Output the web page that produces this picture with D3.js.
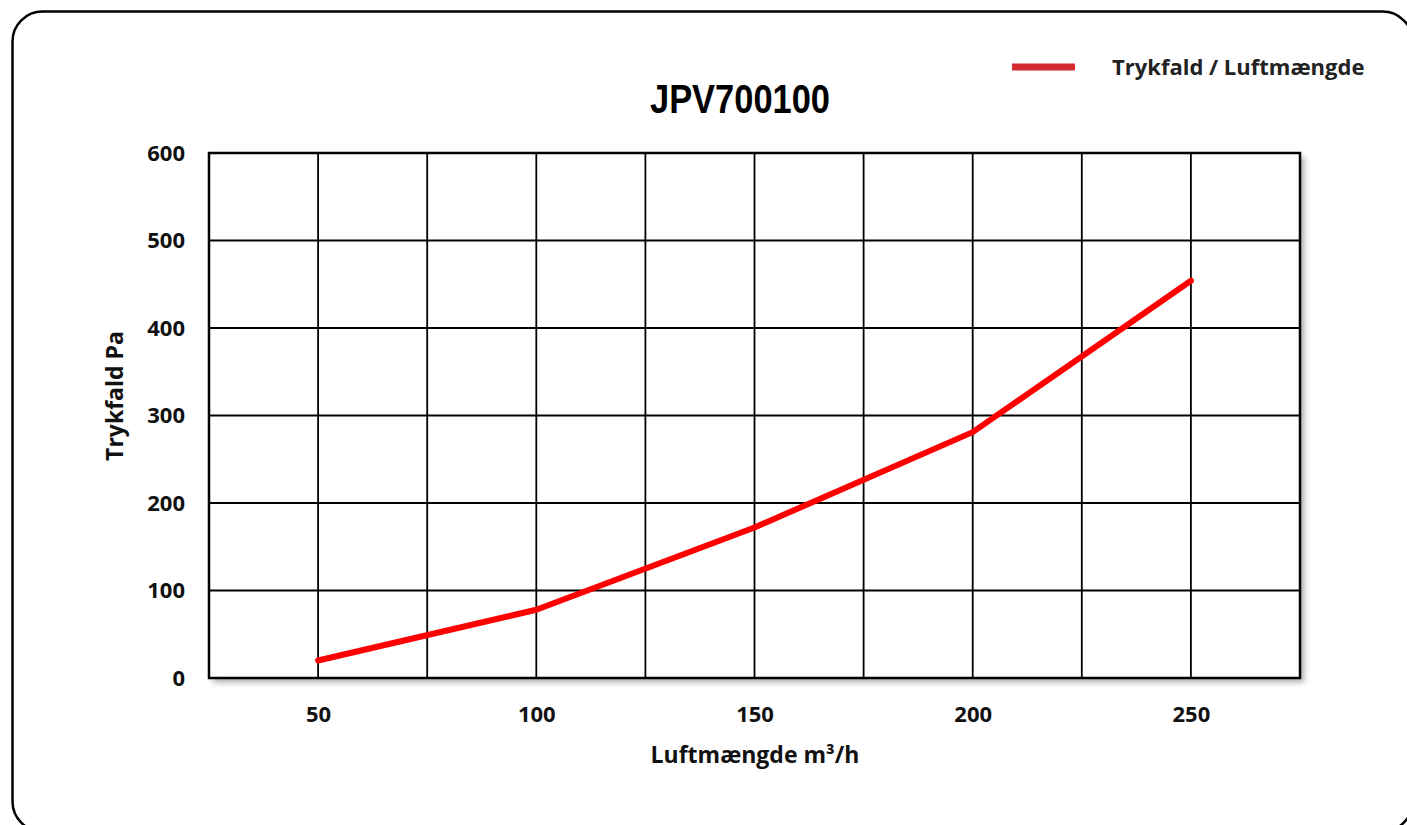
<!DOCTYPE html>
<html>
<head>
<meta charset="utf-8">
<script src="https://cdn.jsdelivr.net/npm/d3@7"></script>
<style>
  body { margin: 0; background: #fff; }
  svg { display: block; }
  .lbl { font-family: "Open Sans", sans-serif; font-weight: bold; fill: #111; }
</style>
</head>
<body>
<div id="chart"></div>
<script>
// data
var flow = [50, 100, 150, 200, 250];          // Luftmængde m3/h
var pressure = [20, 78, 172, 281, 454];       // Trykfald Pa
var xTicks = [50, 100, 150, 200, 250];
var yTicks = [0, 100, 200, 300, 400, 500, 600];
var xGrid = [25, 50, 75, 100, 125, 150, 175, 200, 225, 250, 275];

var W = 1407, H = 825;
var margin = {top: 153, right: 107, bottom: 147, left: 209},
    width = W - margin.left - margin.right,
    height = H - margin.top - margin.bottom;

var svg = d3.select("#chart").append("svg")
    .attr("width", W)
    .attr("height", H);

var defs = svg.append("defs");
var f = defs.append("filter").attr("id", "shadow")
    .attr("x", "-5%").attr("y", "-5%").attr("width", "110%").attr("height", "110%");
f.append("feDropShadow")
    .attr("dx", 4).attr("dy", 4).attr("stdDeviation", 3)
    .attr("flood-color", "#000").attr("flood-opacity", 0.35);

// outer rounded frame
svg.append("rect")
    .attr("x", 12.5).attr("y", 11.5)
    .attr("width", 1400).attr("height", 820)
    .attr("rx", 30).attr("ry", 30)
    .attr("fill", "none")
    .attr("stroke", "#000")
    .attr("stroke-width", 2.5);

var x = d3.scaleLinear().domain([25, 275]).range([0, width]);
var y = d3.scaleLinear().domain([0, 600]).range([height, 0]);

var g = svg.append("g")
    .attr("transform", "translate(" + margin.left + "," + margin.top + ")");

// plot area with shadow
g.append("rect")
    .attr("width", width).attr("height", height)
    .attr("fill", "#fff")
    .attr("filter", "url(#shadow)");

// grid
g.selectAll(".vgrid").data(xGrid).enter().append("line")
    .attr("x1", function(d) { return x(d); })
    .attr("x2", function(d) { return x(d); })
    .attr("y1", 0).attr("y2", height)
    .attr("stroke", "#000").attr("stroke-width", 1.8);

g.selectAll(".hgrid").data(yTicks).enter().append("line")
    .attr("x1", 0).attr("x2", width)
    .attr("y1", function(d) { return y(d); })
    .attr("y2", function(d) { return y(d); })
    .attr("stroke", "#000").attr("stroke-width", 1.8);

g.append("rect")
    .attr("width", width).attr("height", height)
    .attr("fill", "none")
    .attr("stroke", "#000").attr("stroke-width", 2.5);

// axes (labels only)
var xAxis = d3.axisBottom(x).tickValues(xTicks).tickSize(0).tickPadding(28);
var yAxis = d3.axisLeft(y).tickValues(yTicks).tickSize(0).tickPadding(24);

g.append("g")
    .attr("transform", "translate(0," + height + ")")
    .call(xAxis)
    .call(function(s) { s.select(".domain").remove(); })
    .selectAll("text")
    .attr("class", "lbl")
    .style("font-size", "22px");

g.append("g")
    .call(yAxis)
    .call(function(s) { s.select(".domain").remove(); })
    .selectAll("text")
    .attr("class", "lbl")
    .style("font-size", "22px");

// the curve
var line = d3.line()
    .x(function(d, i) { return x(flow[i]); })
    .y(function(d) { return y(d); });

g.append("path")
    .datum(pressure)
    .attr("d", line)
    .attr("fill", "none")
    .attr("stroke", "#ff0000")
    .attr("stroke-width", 6)
    .attr("stroke-linecap", "round")
    .attr("stroke-linejoin", "round");

// titles
svg.append("text")
    .attr("x", 650).attr("y", 113)
    .attr("textLength", 180)
    .attr("lengthAdjust", "spacingAndGlyphs")
    .style("font-family", "'Liberation Sans', Arial, sans-serif")
    .style("font-weight", "bold")
    .style("font-size", "41px")
    .text("JPV700100");

svg.append("text")
    .attr("class", "lbl")
    .attr("x", 755).attr("y", 763)
    .attr("text-anchor", "middle")
    .style("font-size", "23px")
    .text("Luftmængde m³/h");

svg.append("text")
    .attr("class", "lbl")
    .attr("transform", "translate(123,396) rotate(-90)")
    .attr("text-anchor", "middle")
    .style("font-size", "23px")
    .text("Trykfald  Pa");

// legend
svg.append("line")
    .attr("x1", 1012).attr("x2", 1075)
    .attr("y1", 67).attr("y2", 67)
    .attr("stroke", "#d62a31").attr("stroke-width", 7);

svg.append("text")
    .attr("class", "lbl")
    .attr("x", 1112).attr("y", 75)
    .style("font-size", "22px")
    .style("fill", "#222")
    .text("Trykfald / Luftmængde");
</script>
</body>
</html>
